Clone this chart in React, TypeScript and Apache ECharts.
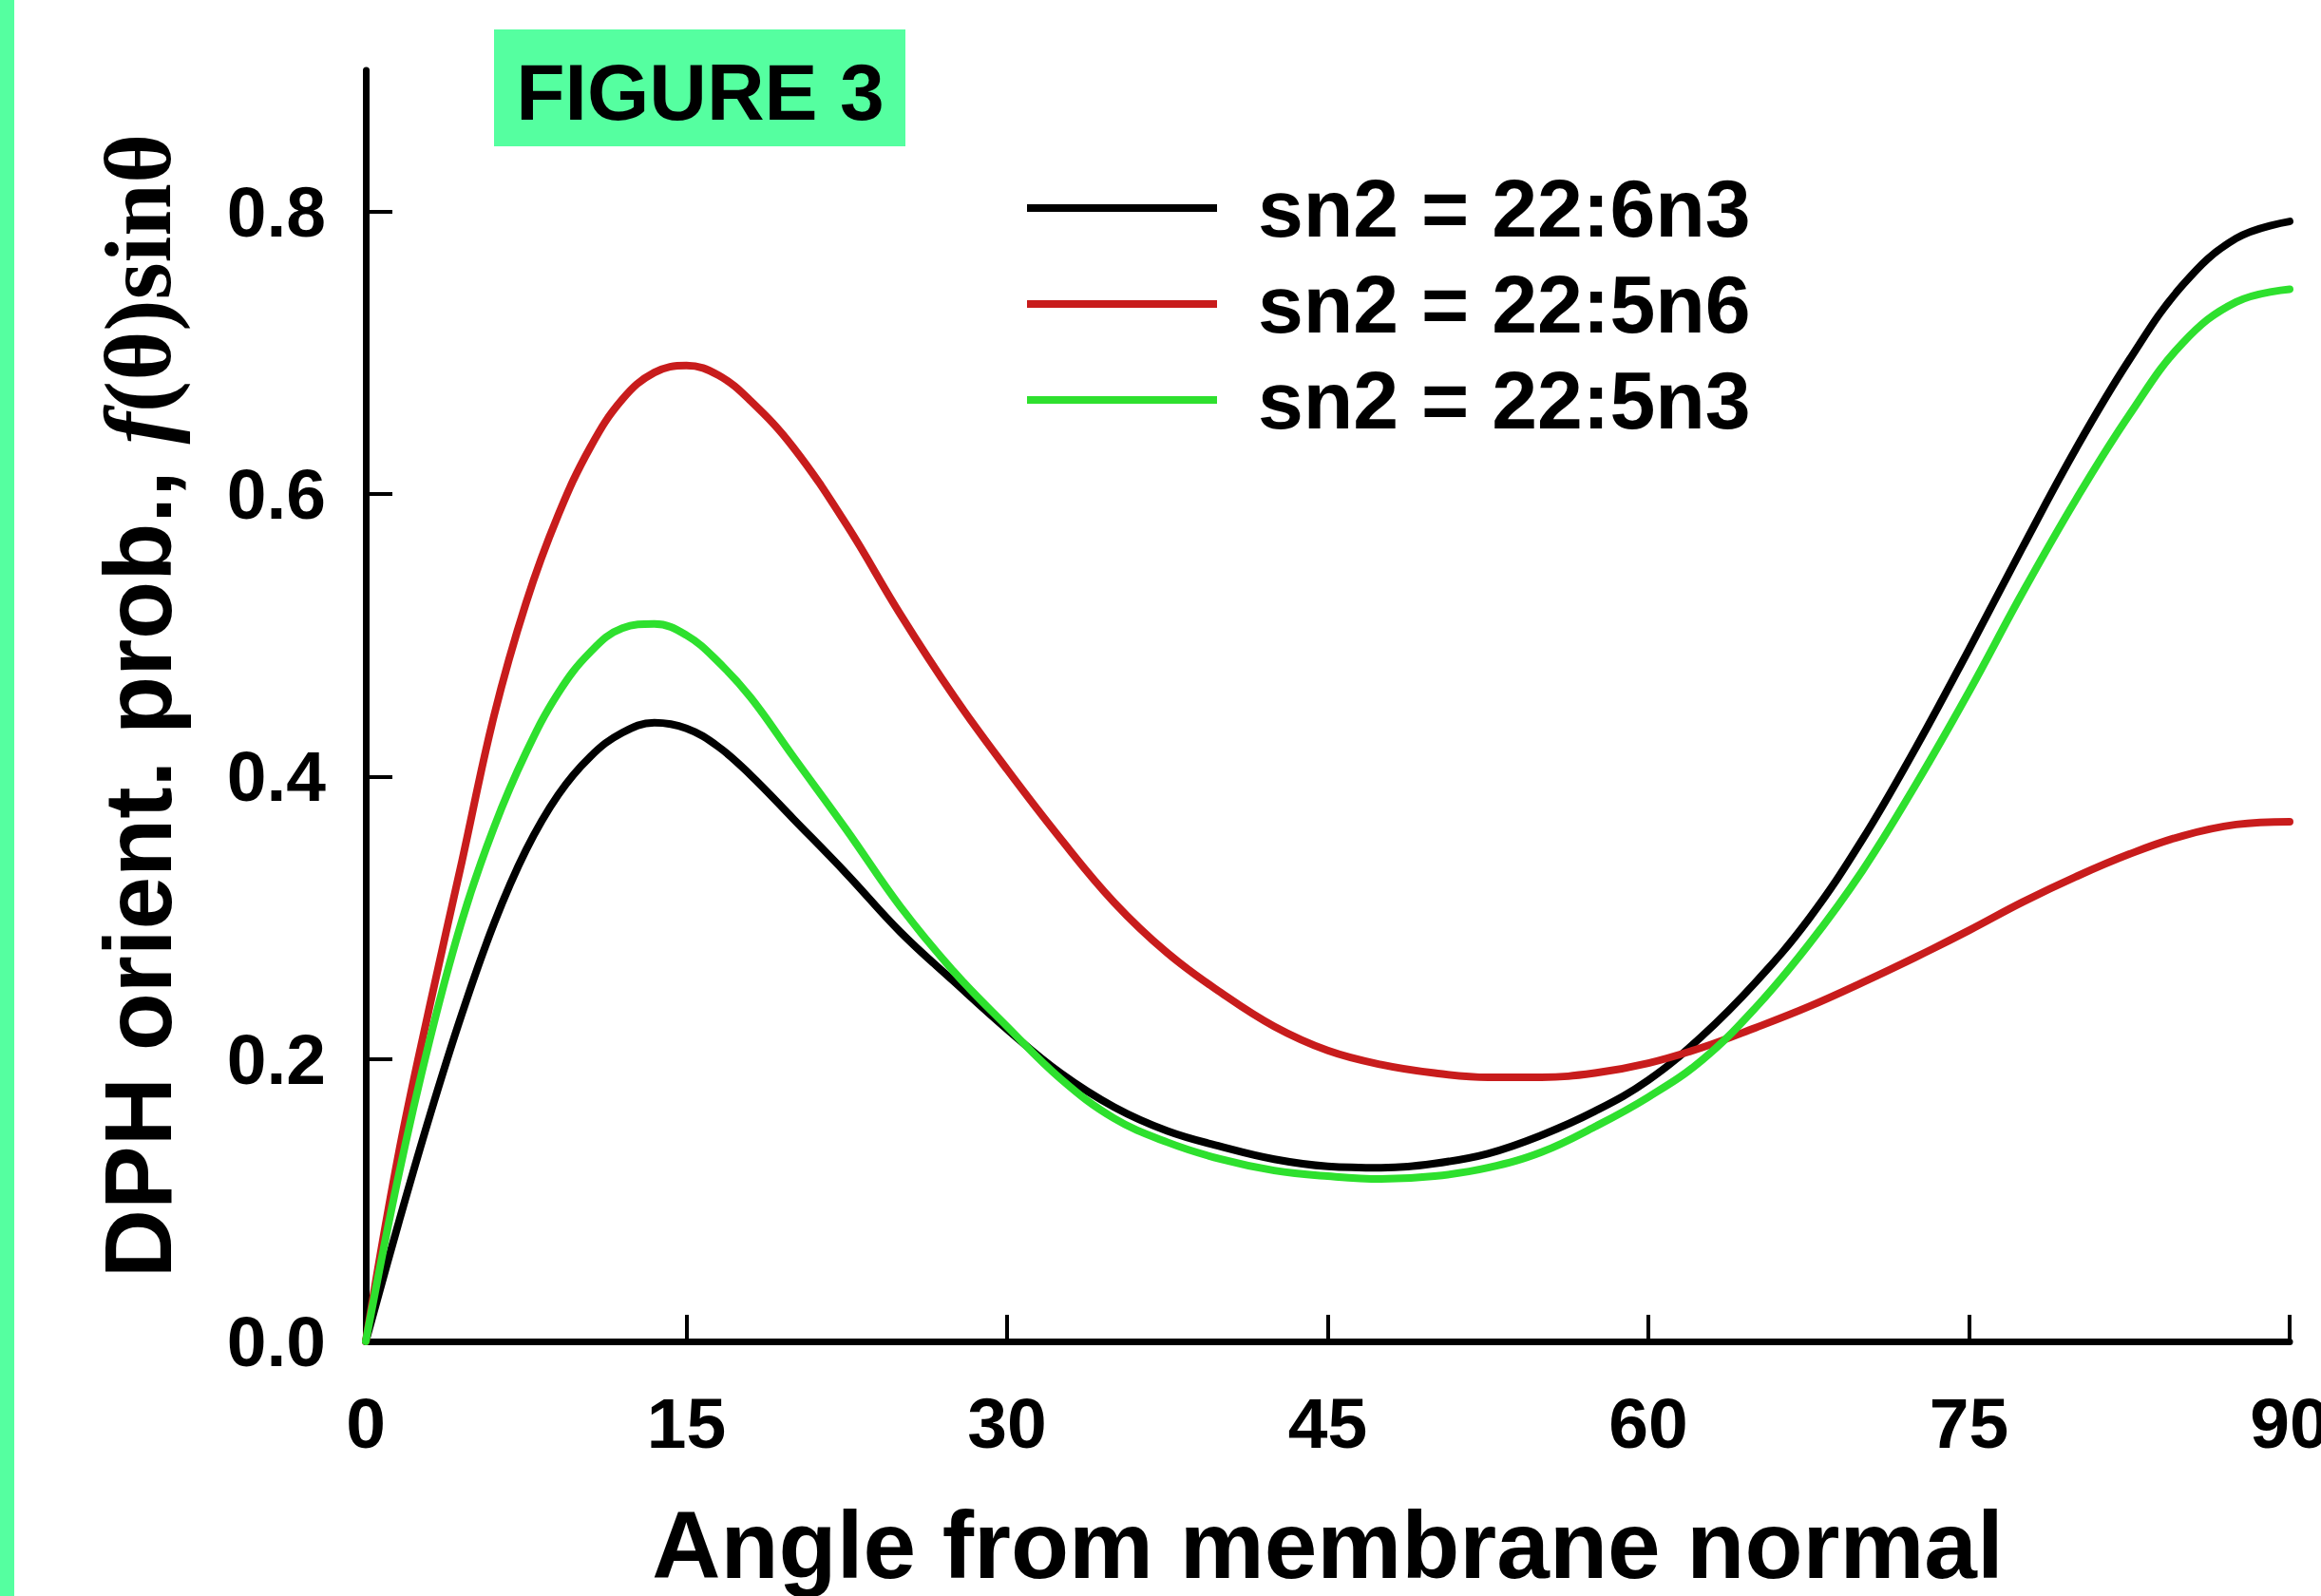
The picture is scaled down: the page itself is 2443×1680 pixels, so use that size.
import React, { useEffect, useRef } from "react";
import * as echarts from "echarts";

const angles = [0, 1.5, 3, 4.5, 6, 7.5, 9, 10.5, 12, 13.5, 15, 16.5, 18, 20, 22.5, 25, 27.5, 30, 32.5, 35, 37.5, 40, 42.5, 45, 47.5, 50, 52.5, 55, 57.5, 60, 62.5, 65, 67.5, 70, 72.5, 75, 77.5, 80, 82.5, 85, 87.5, 90];

const series226n3 = [0, 0.082, 0.16, 0.232, 0.296, 0.348, 0.387, 0.414, 0.431, 0.438, 0.434, 0.421, 0.401, 0.37, 0.331, 0.29, 0.255, 0.221, 0.19, 0.166, 0.149, 0.138, 0.129, 0.124, 0.123, 0.126, 0.133, 0.146, 0.163, 0.185, 0.216, 0.254, 0.299, 0.355, 0.42, 0.49, 0.562, 0.632, 0.695, 0.748, 0.781, 0.793];

const series225n6 = [0, 0.13, 0.238, 0.34, 0.443, 0.523, 0.585, 0.633, 0.667, 0.686, 0.691, 0.684, 0.666, 0.633, 0.578, 0.515, 0.457, 0.405, 0.356, 0.311, 0.275, 0.247, 0.223, 0.206, 0.196, 0.19, 0.187, 0.187, 0.19, 0.197, 0.208, 0.222, 0.237, 0.254, 0.272, 0.291, 0.311, 0.329, 0.345, 0.358, 0.366, 0.368];

const series225n3 = [0, 0.115, 0.214, 0.298, 0.364, 0.417, 0.459, 0.488, 0.505, 0.508, 0.5, 0.481, 0.456, 0.414, 0.362, 0.308, 0.262, 0.223, 0.186, 0.158, 0.141, 0.129, 0.121, 0.117, 0.115, 0.117, 0.123, 0.134, 0.152, 0.173, 0.199, 0.236, 0.281, 0.333, 0.394, 0.46, 0.53, 0.596, 0.656, 0.707, 0.736, 0.745];

const seriesNames = ["sn2 = 22:6n3", "sn2 = 22:5n6", "sn2 = 22:5n3"];
const seriesColors = ["#000000", "#c81c1c", "#2ee02e"];
const yTicks = [0, 0.2, 0.4, 0.6, 0.8];
const xTicks = [0, 15, 30, 45, 60, 75, 90];

const SANS = '"Liberation Sans", Arial, sans-serif';
const SERIF = '"Liberation Serif", "Times New Roman", serif';
const ACCENT = "#55FFA0";

export default function App() {
  const ref = useRef<HTMLDivElement>(null);

  useEffect(() => {
    document.body.style.margin = "0";
    document.body.style.overflow = "hidden";
    const chart = echarts.init(ref.current!, null, { renderer: "svg", width: 2443, height: 1680 });
    const allSeries = [series226n3, series225n6, series225n3];
    chart.setOption({
      animation: false,
      backgroundColor: "#ffffff",
      grid: { left: 385, right: 33, top: 74, bottom: 268, containLabel: false, outerBoundsMode: "none" },
      legend: {
        orient: "vertical",
        left: 1081,
        top: 176,
        padding: 0,
        icon: "rect",
        itemWidth: 200,
        itemHeight: 8,
        itemGap: 15,
        data: seriesNames,
        textStyle: {
          fontFamily: SANS,
          fontWeight: "bold",
          fontSize: 86,
          lineHeight: 86,
          color: "#000",
          padding: [0, 0, 0, 38],
        },
      },
      xAxis: {
        type: "value",
        min: 0,
        max: 90,
        interval: 15,
        name: "Angle from membrane normal",
        nameLocation: "middle",
        nameGap: 164,
        nameTextStyle: { fontFamily: SANS, fontWeight: "bold", fontSize: 100, color: "#000" },
        axisLine: { show: true, lineStyle: { color: "#000", width: 7 } },
        axisTick: { show: true, inside: true, length: 28, lineStyle: { color: "#000", width: 4 }, customValues: xTicks },
        axisLabel: { margin: 48, fontFamily: SANS, fontWeight: "bold", fontSize: 75, color: "#000", customValues: xTicks },
        splitLine: { show: false },
      },
      yAxis: {
        type: "value",
        min: 0,
        max: 0.9,
        interval: 0.2,
        name: "{a|DPH orient. prob., }{f|f}{b|(θ)sinθ}",
        nameLocation: "middle",
        nameRotate: 90,
        nameGap: 190,
        nameTextStyle: {
          color: "#000",
          rich: {
            a: { fontFamily: SANS, fontWeight: "bold", fontSize: 100, lineHeight: 100, color: "#000" },
            f: { fontFamily: SERIF, fontWeight: "bold", fontStyle: "italic", fontSize: 100, lineHeight: 100, color: "#000" },
            b: { fontFamily: SERIF, fontWeight: "bold", fontSize: 100, lineHeight: 100, color: "#000" },
          },
        },
        axisLine: { show: true, lineStyle: { color: "#000", width: 7 } },
        axisTick: { show: true, inside: true, length: 28, lineStyle: { color: "#000", width: 4 }, customValues: yTicks },
        axisLabel: {
          margin: 42,
          fontFamily: SANS,
          fontWeight: "bold",
          fontSize: 75,
          color: "#000",
          customValues: yTicks,
          formatter: (v: number) => v.toFixed(1),
        },
        splitLine: { show: false },
      },
      series: seriesNames.map((name, i) => ({
        name,
        type: "line",
        smooth: 0.4,
        showSymbol: false,
        symbol: "none",
        data: angles.map((a, j) => [a, allSeries[i][j]]),
        lineStyle: { color: seriesColors[i], width: 8, cap: "round", join: "round" },
        itemStyle: { color: seriesColors[i] },
        z: 2 + i,
      })),
      graphic: [
        { type: "rect", shape: { x: 0, y: 0, width: 15, height: 1680 }, style: { fill: ACCENT }, z: 10 },
        { type: "rect", shape: { x: 520, y: 31, width: 433, height: 123 }, style: { fill: ACCENT }, z: 10 },
        {
          type: "text",
          x: 737,
          y: 97,
          z: 11,
          style: {
            text: "FIGURE 3",
            fontFamily: SANS,
            fontWeight: "bold",
            fontSize: 84,
            fill: "#000",
            align: "center",
            verticalAlign: "middle",
          },
        },
      ],
    });
    return () => chart.dispose();
  }, []);

  return <div ref={ref} style={{ width: 2443, height: 1680, background: "#fff" }} />;
}
